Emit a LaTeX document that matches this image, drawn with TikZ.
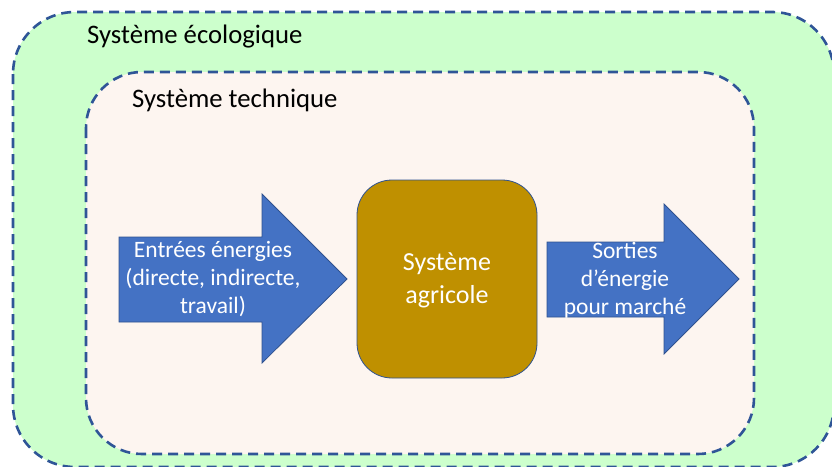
\documentclass[tikz,border=0pt]{standalone}
\usepackage{fontspec}
\setmainfont{Carlito}
\definecolor{ecogreen}{HTML}{CCFFCC}
\definecolor{techbg}{HTML}{FDF5F0}
\definecolor{dashblue}{HTML}{2F5597}
\definecolor{arrowblue}{HTML}{4472C4}
\definecolor{edgeblue}{HTML}{2F528F}
\definecolor{agrigold}{HTML}{BF9000}
\begin{document}
\begin{tikzpicture}[x=1pt,y=-1pt,
  zone/.style={draw=dashblue,line width=2.6pt,dash pattern=on 10pt off 6pt},
  bigarrow/.style={fill=arrowblue,draw=edgeblue,line width=0.8pt,line join=miter},
  title/.style={font=\fontsize{26.7}{31}\selectfont,anchor=base west,inner sep=0pt},
  arrowtext/.style={font=\fontsize{23.5}{28}\selectfont,text=white,align=center,inner sep=0pt},
  agri/.style={fill=agrigold,draw=edgeblue,line width=0.8pt,rounded corners=35pt}]
\useasboundingbox (0,0) rectangle (832,466);
\begin{scope}
\clip (0,0) rectangle (832,466);
\draw[zone,fill=ecogreen,rounded corners=62pt] (13,12) rectangle (834,467);
\draw[zone,fill=techbg,rounded corners=56pt] (86,72) rectangle (754,454);
\end{scope}
\node[title] (eco) at (87,43) {Système écologique};
\node[title] (tech) at (132,107) {Système technique};
% input arrow
\draw[bigarrow] (119,237) -- (262,237) -- (262,194) -- (347,279) -- (262,363) -- (262,322) -- (119,322) -- cycle;
\node[arrowtext] (in) at (213,279) {Entrées énergies\\(directe, indirecte,\\travail)};
% agricultural system
\draw[agri] (357,180) rectangle (537,378);
\node[font=\fontsize{26}{33}\selectfont,text=white,align=center,inner sep=0pt] (agr) at (447,280) {Système\\agricole};
% output arrow
\draw[bigarrow] (547,242) -- (664,242) -- (664,204) -- (739,279) -- (664,354) -- (664,317) -- (547,317) -- cycle;
\node[arrowtext] (out) at (625,280) {Sorties\\d’énergie\\pour marché};
\end{tikzpicture}
\end{document}
